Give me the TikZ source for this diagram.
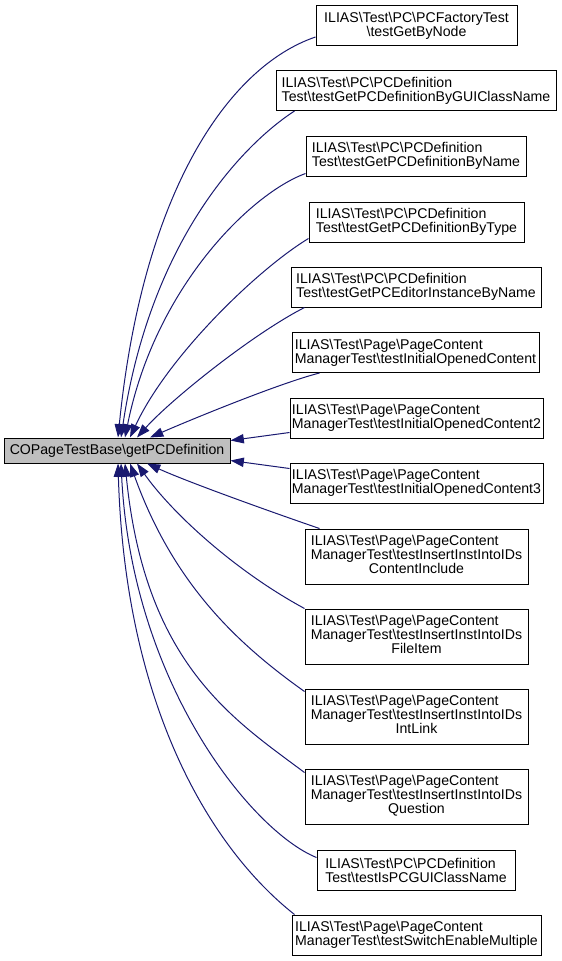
\documentclass[tikz,border=0pt]{standalone}
\usepackage{fontspec}
\setmainfont{Liberation Sans}
\usetikzlibrary{arrows.meta,calc}
\tikzset{every picture/.style={line width=0.75pt}}
\newcommand{\bs}{\textbackslash}
\newcommand{\lastln}[1]{\multicolumn{1}{@{}c@{}}{#1}}

\begin{document}
\begin{tikzpicture}[x=0.75pt,y=0.75pt,yscale=-1,xscale=1,
  wh/.style 2 args={minimum width=#1*0.75pt,minimum height=#2*0.75pt},
  box/.style={draw=black,fill=white,inner sep=0pt,font=\fontsize{10.6}{10.5}\selectfont},
  leftbox/.style={box,align=left},
  mainbox/.style={box,fill={rgb, 255:red, 191; green, 191; blue, 191 }},
  edge/.style={color={rgb, 255:red, 25; green, 25; blue, 112 },-{Triangle[length=10pt,width=7pt]}}]
\useasboundingbox (0,0) rectangle (561,961);

% Text Node
\node[mainbox,wh={226}{25}] (main) at (117,450.5) {COPageTestBase\bs getPCDefinition};
% Text Node
\node[box,align=center,wh={201}{40}] (b1) at (416.5,25.5) {ILIAS\bs Test\bs PC\bs PCFactoryTest\\\bs testGetByNode};
% Text Node
\node[leftbox,wh={280}{40}] (b2) at (416,90.5) {ILIAS\bs Test\bs PC\bs PCDefinition\\Test\bs testGetPCDefinitionByGUIClassName};
% Text Node
\node[leftbox,wh={220}{40}] (b3) at (416,156) {ILIAS\bs Test\bs PC\bs PCDefinition\\Test\bs testGetPCDefinitionByName};
% Text Node
\node[leftbox,wh={215}{40}] (b4) at (416.5,222) {ILIAS\bs Test\bs PC\bs PCDefinition\\Test\bs testGetPCDefinitionByType};
% Text Node
\node[leftbox,wh={250}{40}] (b5) at (416,287) {ILIAS\bs Test\bs PC\bs PCDefinition\\Test\bs testGetPCEditorInstanceByName};
% Text Node
\node[leftbox,wh={247}{40}] (b6) at (415.5,352.5) {ILIAS\bs Test\bs Page\bs PageContent\\ManagerTest\bs testInitialOpenedContent};
% Text Node
\node[leftbox,wh={253}{40}] (b7) at (416.5,418) {ILIAS\bs Test\bs Page\bs PageContent\\ManagerTest\bs testInitialOpenedContent2};
% Text Node
\node[leftbox,wh={253}{40}] (b8) at (416.5,483) {ILIAS\bs Test\bs Page\bs PageContent\\ManagerTest\bs testInitialOpenedContent3};
% Text Node
\node[box,wh={223}{55}] (b9) at (416.5,556.5) {\begin{tabular}{@{}l@{}}ILIAS\bs Test\bs Page\bs PageContent\\ManagerTest\bs testInsertInstIntoIDs\\\lastln{ContentInclude}\end{tabular}};
% Text Node
\node[box,wh={223}{55}] (b10) at (416.5,636.5) {\begin{tabular}{@{}l@{}}ILIAS\bs Test\bs Page\bs PageContent\\ManagerTest\bs testInsertInstIntoIDs\\\lastln{FileItem}\end{tabular}};
% Text Node
\node[box,wh={223}{55}] (b11) at (416.5,716.5) {\begin{tabular}{@{}l@{}}ILIAS\bs Test\bs Page\bs PageContent\\ManagerTest\bs testInsertInstIntoIDs\\\lastln{IntLink}\end{tabular}};
% Text Node
\node[box,wh={223}{55}] (b12) at (416.5,796.5) {\begin{tabular}{@{}l@{}}ILIAS\bs Test\bs Page\bs PageContent\\ManagerTest\bs testInsertInstIntoIDs\\\lastln{Question}\end{tabular}};
% Text Node
\node[leftbox,wh={198}{40}] (b13) at (416,870) {ILIAS\bs Test\bs PC\bs PCDefinition\\Test\bs testIsPCGUIClassName};
% Text Node
\node[leftbox,wh={249}{40}] (b14) at (416.5,935) {ILIAS\bs Test\bs Page\bs PageContent\\ManagerTest\bs testSwitchEnableMultiple};

%Edges above
\draw[edge] ($(b1.south west)+(0,-9)$) .. controls (230.5,65.8) and (143,188) .. ($(main.north)+(1,0)$);
\draw[edge] ($(b2.south west)+(19,0)$) .. controls (244.6,143.4) and (151,238) .. ($(main.north)+(4,0)$);
\draw[edge] ($(b3.south west)+(0,-3)$) .. controls (250.3,193.7) and (155,288) .. ($(main.north)+(8,0)$);
\draw[edge] ($(b4.south west)+(0,-4)$) .. controls (258,269) and (167.8,356) .. ($(main.north)+(13,0)$);
\draw[edge] ($(b5.south west)+(14,0)$) .. controls (251.6,334.6) and (170,400.5) .. ($(main.north)+(20,0)$);
\draw[edge] ($(b6.south west)+(28,0)$) .. controls (280,383) and (190,420) .. ($(main.north)+(33,0)$);
%Edges to the side
\draw[edge] ($(b7.south west)+(0,-6)$) -- ($(main.north east)+(0,3)$);
\draw[edge] ($(b8.north west)+(0,6)$) -- ($(main.south east)+(0,-3)$);
%Edges below
\draw[edge] ($(b9.north west)+(15,0)$) .. controls (280,515) and (190,483) .. ($(main.south)+(30,0)$);
\draw[edge] (b10.north west) .. controls (234.6,570.6) and (172,513) .. ($(main.south)+(20,0)$);
\draw[edge] ($(b11.north west)+(0,3)$) .. controls (240,645.6) and (174,586) .. ($(main.south)+(13,0)$);
\draw[edge] ($(b12.north west)+(0,4)$) .. controls (233,719) and (145,664) .. ($(main.south)+(8,0)$);
\draw[edge] ($(b13.north west)+(0,8)$) .. controls (252,831.4) and (132,684) .. ($(main.south)+(4,0)$);
\draw[edge] ($(b14.north west)+(3,0)$) .. controls (209,847) and (125,704) .. ($(main.south)+(1,0)$);

\end{tikzpicture}
\end{document}
